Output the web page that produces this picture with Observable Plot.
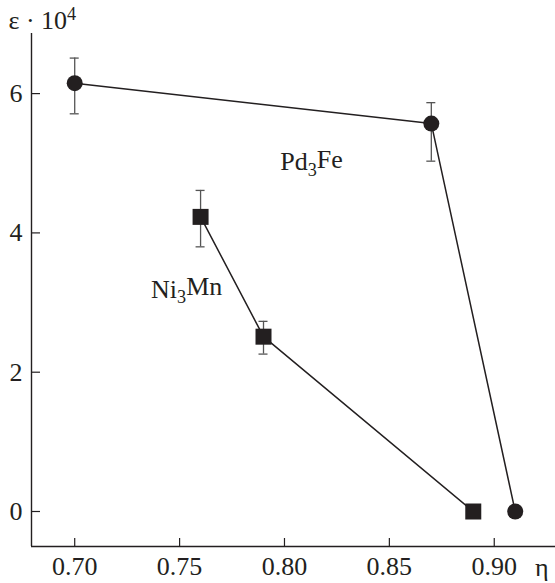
<!DOCTYPE html>
<html>
<head>
<meta charset="utf-8">
<script src="https://cdn.jsdelivr.net/npm/d3@7"></script>
<script src="https://cdn.jsdelivr.net/npm/@observablehq/plot@0.6"></script>
<style>
  html, body { margin: 0; padding: 0; background: #fff; }
  #chart svg { display: block; }
  #chart svg, #chart svg text { font-family: "Liberation Serif", "Times New Roman", serif !important; }
</style>
</head>
<body>
<div id="chart"></div>
<script>
// ---- data ----
const etaTicks = [0.70, 0.75, 0.80, 0.85, 0.90];
const epsTicks = [0, 2, 4, 6];

const pdEta = [0.70, 0.87, 0.91];
const pdEps = [6.15, 5.57, 0];
const pdLo  = [5.71, 5.03, null];
const pdHi  = [6.51, 5.87, null];

const niEta = [0.76, 0.79, 0.89];
const niEps = [4.23, 2.51, 0];
const niLo  = [3.80, 2.26, null];
const niHi  = [4.61, 2.73, null];

const seriesNames = ["Pd3Fe", "Ni3Mn"];
const labelEta = [0.798, 0.7364];
const labelEps = [4.896, 3.068];

const xDomain = [0.6794, 0.9292];
const yDomain = [-0.5025, 6.863];

// ---- build tables ----
const pd = pdEta.map((x, i) => ({x, y: pdEps[i], lo: pdLo[i], hi: pdHi[i]}));
const ni = niEta.map((x, i) => ({x, y: niEps[i], lo: niLo[i], hi: niHi[i]}));
const errs = [...pd, ...ni].filter(d => d.lo != null);
const labels = seriesNames.map((name, i) => ({name, x: labelEta[i], y: labelEps[i]}));

const font = "'Liberation Serif', 'Times New Roman', serif";

const chart = Plot.plot({
  width: 555,
  height: 583,
  marginLeft: 31,
  marginRight: 0,
  marginTop: 33,
  marginBottom: 37,
  style: {fontFamily: font, fontSize: "26px", color: "#231f20", background: "#fff"},
  x: {domain: xDomain},
  y: {domain: yDomain},
  marks: [
    Plot.ruleX([xDomain[0]], {stroke: "#231f20", strokeWidth: 1.4}),
    Plot.ruleY([yDomain[0]], {stroke: "#231f20", strokeWidth: 1.4}),
    Plot.axisX(etaTicks, {tickFormat: d => d.toFixed(2), tickSize: -8, tickPadding: 18.5, fontSize: 26, fontFamily: font, label: null, strokeWidth: 1.2}),
    Plot.axisY(epsTicks, {tickFormat: d => String(d), tickSize: -9, tickPadding: 18, fontSize: 26, fontFamily: font, label: null, strokeWidth: 1.2}),
    Plot.line(pd, {x: "x", y: "y", stroke: "#231f20", strokeWidth: 1.5}),
    Plot.line(ni, {x: "x", y: "y", stroke: "#231f20", strokeWidth: 1.5}),
    Plot.ruleX(errs, {x: "x", y1: "lo", y2: "hi", stroke: "#555", strokeWidth: 1.3}),
    Plot.ruleY(errs, {y: "hi", x1: "x", x2: "x", insetLeft: -4.5, insetRight: -4.5, stroke: "#555", strokeWidth: 1.3}),
    Plot.ruleY(errs, {y: "lo", x1: "x", x2: "x", insetLeft: -4.5, insetRight: -4.5, stroke: "#555", strokeWidth: 1.3}),
    Plot.dot(pd, {x: "x", y: "y", r: 8, fill: "#231f20", stroke: "none"}),
    Plot.dot(ni, {x: "x", y: "y", r: 9.03, symbol: "square", fill: "#231f20", stroke: "none"}),
    Plot.text(labels, {x: "x", y: "y", text: "name", textAnchor: "start", lineAnchor: "bottom", fontSize: 26, fontFamily: font, fill: "#231f20", className: "series-label"}),
    Plot.text(["ε · 104"], {frameAnchor: "top-left", textAnchor: "start", lineAnchor: "bottom", dx: -23, dy: -4.7, fontSize: 26, fontFamily: font, fill: "#231f20", className: "ylabel"}),
    Plot.text(["η"], {frameAnchor: "bottom-right", textAnchor: "end", lineAnchor: "bottom", dx: -7, dy: 29, fontSize: 26, fontFamily: font, fill: "#231f20"})
  ]
});

document.getElementById("chart").appendChild(chart);

// subscripts / superscripts as real tspans
function rich(textEl, parts) {
  textEl.textContent = "";
  const ns = "http://www.w3.org/2000/svg";
  let shift = 0;
  parts.forEach(p => {
    const t = document.createElementNS(ns, "tspan");
    t.textContent = p.t;
    const target = p.s || 0;
    const dy = target - shift;
    if (dy !== 0) t.setAttribute("dy", dy + "em");
    if (p.small) t.setAttribute("font-size", "70%");
    shift = target;
    textEl.appendChild(t);
  });
}
d3.select(chart).selectAll(".series-label text").each(function() {
  const s = this.textContent;
  const m = s.match(/^([A-Za-z]+)(\d)([A-Za-z]+)$/);
  if (m) rich(this, [{t: m[1]}, {t: m[2], s: 0.3, small: true}, {t: m[3], s: 0}]);
});
d3.select(chart).selectAll(".ylabel text").each(function() {
  rich(this, [{t: "ε · 10"}, {t: "4", s: -0.5, small: true}]);
});
</script>
</body>
</html>
